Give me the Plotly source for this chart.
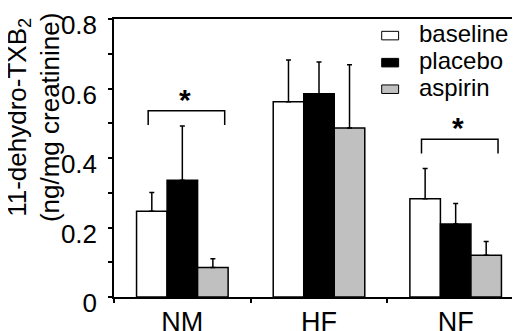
import plotly.graph_objects as go

categories = ["NM", "HF", "NF"]
series_names = ["baseline", "placebo", "aspirin"]
baseline = [0.247, 0.562, 0.283]
baseline_err = [0.054, 0.120, 0.087]
placebo = [0.336, 0.585, 0.210]
placebo_err = [0.156, 0.091, 0.059]
aspirin = [0.085, 0.486, 0.120]
aspirin_err = [0.025, 0.182, 0.040]
y_tick_vals = [0, 0.2, 0.4, 0.6, 0.8]
y_tick_text = ["0", "0.2", "0.4", "0.6", "0.8"]
sig_groups = [0, 2]          # category indices with significance bracket
sig_heights = [0.536, 0.454]  # bracket heights (data units)

colors = ["#ffffff", "#000000", "#c0c0c0"]
values = [baseline, placebo, aspirin]
errors = [baseline_err, placebo_err, aspirin_err]

FONT = "Liberation Sans, Arial, sans-serif"

fig = go.Figure()
for name, vals, errs, col in zip(series_names, values, errors, colors):
    fig.add_trace(go.Bar(
        x=categories, y=vals, name=name,
        marker=dict(color=col, line=dict(color="#000000", width=1.5)),
        error_y=dict(type="data", array=errs, arrayminus=[0] * len(errs),
                     symmetric=False, color="#000000", thickness=1.5, width=2.5),
        showlegend=False,
    ))

shapes = []
annotations = []
# significance brackets
for gi, h in zip(sig_groups, sig_heights):
    x0, x1 = gi - 0.25, gi + 0.31
    leg = 0.041
    shapes.append(dict(type="path", xref="x", yref="y",
                       path=f"M {x0},{h - leg} L {x0},{h} L {x1},{h} L {x1},{h - leg}",
                       line=dict(color="#000000", width=1.5)))
    annotations.append(dict(x=(x0 + x1) / 2 - 0.01, y=h, xref="x", yref="y",
                            text="<b>*</b>", showarrow=False, yanchor="bottom",
                            yshift=-7,
                            font=dict(family=FONT, size=30, color="#000000")))

# manual legend (paper coords from pixel layout)
L, T, W, H = 106, 5, 412, 293
def px(x):
    return (x - L) / W
def py(y):
    return 1 - (y - T) / H
legend_rows = [22.5, 51, 79]
for name, col, yc in zip(series_names, colors, legend_rows):
    shapes.append(dict(type="rect", xref="paper", yref="paper",
                       x0=px(375), x1=px(392), y0=py(yc - 4.5), y1=py(yc + 4.5),
                       fillcolor=col, line=dict(color="#000000", width=1)))
    annotations.append(dict(x=px(410), y=py(yc), xref="paper", yref="paper",
                            text=name, showarrow=False, xanchor="left", yanchor="middle",
                            yshift=2,
                            font=dict(family=FONT, size=24, color="#000000")))

# y axis title
annotations.append(dict(x=px(25), y=py(108), xref="paper", yref="paper",
                        text="11-dehydro-TXB<sub>2</sub><br>(ng/mg creatinine)",
                        textangle=-90, showarrow=False,
                        xanchor="center", yanchor="middle",
                        font=dict(family=FONT, size=26, color="#000000")))

fig.update_layout(
    width=520, height=331,
    margin=dict(l=L, r=520 - L - W, t=T, b=331 - T - H),
    paper_bgcolor="#ffffff", plot_bgcolor="#ffffff",
    barmode="group", bargap=0.33, bargroupgap=0,
    shapes=shapes, annotations=annotations,
    font=dict(family=FONT, color="#000000"),
)
fig.update_xaxes(
    showline=True, linecolor="#000000", linewidth=1.5, mirror=True,
    ticks="outside", tickson="boundaries", ticklen=4, tickwidth=1.5, tickcolor="#000000",
    tickfont=dict(family=FONT, size=27, color="#000000"),
    showgrid=False, zeroline=False,
)
fig.update_yaxes(
    range=[0, 0.8], showline=True, linecolor="#000000", linewidth=1.5, mirror=True,
    tickvals=y_tick_vals, ticktext=y_tick_text,
    ticks="outside", ticklen=4, tickwidth=1.5, tickcolor="#000000",
    minor=dict(dtick=0.1, ticks="outside", ticklen=4, tickwidth=1.5, tickcolor="#000000", showgrid=False),
    tickfont=dict(family=FONT, size=26, color="#000000"),
    ticklabelshift=6, ticklabelstandoff=6, ticklabeloverflow="allow",
    showgrid=False, zeroline=False,
)
fig.write_html("out.html")
